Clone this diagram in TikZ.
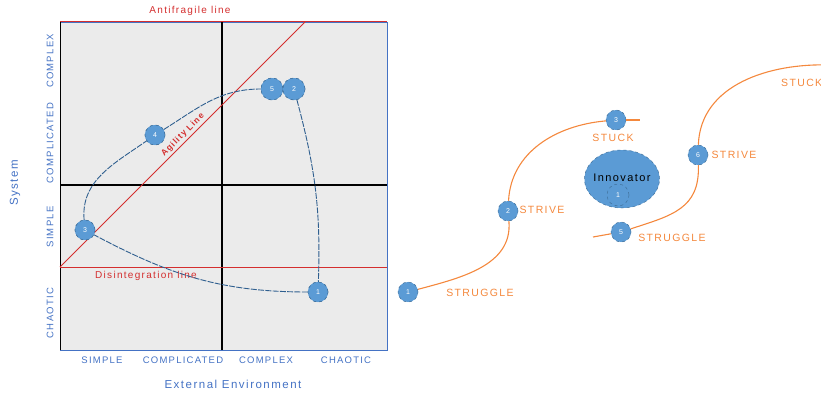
\documentclass[tikz,border=0pt]{standalone}
\usepackage{fontspec}
\setmainfont{Liberation Sans}[LetterSpace=13]
\usetikzlibrary{shapes.geometric}
\definecolor{axblue}{HTML}{4472C4}
\definecolor{dotblue}{HTML}{5B9BD5}
\definecolor{dotedge}{HTML}{41719C}
\definecolor{loopblue}{HTML}{2F5F8F}
\definecolor{redc}{HTML}{D42E2E}
\definecolor{orangec}{HTML}{F4883D}
\definecolor{grayfill}{HTML}{EBEBEB}
\begin{document}
\begin{tikzpicture}[x=1pt,y=1pt,
  axlbl/.style={text=axblue, font=\fontsize{9.5}{10}\selectfont, inner sep=0pt},
  axtitle/.style={text=axblue, font=\fontsize{11.5}{12}\selectfont, inner sep=0pt},
  redlbl/.style={text=redc, font=\fontsize{10}{11}\selectfont, inner sep=0pt},
  redline/.style={draw=redc, line width=1pt},
  midline/.style={draw=black, line width=1.1pt},
  dot/.style={circle, fill=dotblue, draw=dotedge, dashed, line width=0.5pt, minimum size=20pt, inner sep=0pt, text=white, font=\fontsize{7}{8}\selectfont},
  loopline/.style={draw=loopblue, line width=0.9pt, dash pattern=on 6pt off 1.3pt},
  oline/.style={draw=orangec, line width=1.1pt},
  olbl/.style={text=orangec, font=\fontsize{10.5}{11}\selectfont, inner sep=0pt}]
\useasboundingbox (0,0) rectangle (821,392);
% plot area
\fill[grayfill] (60,42) rectangle (387,370);
\draw[axblue, line width=0.8pt] (60,42) rectangle (387,370);
\draw[black, line width=1.4pt] (60.5,42) -- (60.5,370);
\coordinate (vmT) at (222,370); \coordinate (vmB) at (222,42);
\coordinate (hmL) at (60,207); \coordinate (hmR) at (387,207);
\draw[midline] (vmT) -- (vmB);
\draw[midline] (hmL) -- (hmR);
% red lines
\coordinate (anA) at (60,370); \coordinate (anB) at (387,370);
\coordinate (diA) at (60,125); \coordinate (diB) at (387,125);
\coordinate (agA) at (60,125); \coordinate (agB) at (305,370);
\draw[redline] (anA) -- (anB);
\draw[redline] (diA) -- (diB);
\draw[redline] (agA) -- (agB) node[pos=0.52, sloped, above=2pt, text=redc, font=\bfseries\fontsize{8.5}{9}\selectfont, inner sep=0pt] {Agility Line};
\node[redlbl] (antl) at (190,381) {Antifragile line};
\node[redlbl] (disl) at (146,116) {Disintegration line};
% axis labels
\node[axlbl, rotate=90] (yc1) at (50,331) {COMPLEX};
\node[axlbl, rotate=90] (yc2) at (50,249) {COMPLICATED};
\node[axlbl, rotate=90] (yc3) at (50,165) {SIMPLE};
\node[axlbl, rotate=90] (yc4) at (50,79) {CHAOTIC};
\node[axlbl] (xs1) at (102,32) {SIMPLE};
\node[axlbl] (xs2) at (183,32) {COMPLICATED};
\node[axlbl] (xs3) at (266,32) {COMPLEX};
\node[axlbl] (xs4) at (346,32) {CHAOTIC};
\node[axtitle] (xt) at (233,8) {External Environment};
\node[axtitle, rotate=90] (yt) at (15,209) {System};
% loop
\node[dot] (c5) at (85,162) {3};
\node[dot] (c2) at (155,257) {4};
\node[dot, minimum size=22pt] (c3) at (272,303) {5};
\node[dot, minimum size=22pt] (c4) at (294,303) {2};
\node[dot] (c1) at (318,100) {1};
\draw[loopline] (c5) to[out=95,in=215] (c2) to[out=32,in=180] (c3);
\draw[loopline] (c4) to[out=-75,in=88] (c1);
\draw[loopline] (c1) to[out=180,in=-28] (c5);
\node[dot] (c5b) at (85,162) {3};
\node[dot] (c2b) at (155,257) {4};
\node[dot, minimum size=22pt] (c3b) at (272,303) {5};
\node[dot, minimum size=22pt] (c4b) at (294,303) {2};
\node[dot] (c1b) at (318,100) {1};
% right side curves
\coordinate (e3) at (640,272);
\coordinate (s5) at (593,155);
\coordinate (eB) at (830,327);
\node[dot] (r1) at (408,100) {1};
\node[dot] (r2) at (508,181) {2};
\node[dot] (r3) at (616,272) {3};
\node[dot] (r5) at (621,160) {5};
\node[dot] (r6) at (698,237) {6};
\draw[oline] (r1) to[out=15,in=-85] (r2);
\draw[oline] (r2) to[out=87,in=185] (r3);
\draw[oline] (r3) -- (e3);
\draw[oline] (s5) -- (r5);
\draw[oline] (r5) to[out=18,in=-88,looseness=1.2] (r6);
\draw[oline] (r6) to[out=88,in=178] (eB);
\node[olbl] (l1) at (480,99) {STRUGGLE};
\node[olbl] (l2) at (542,182) {STRIVE};
\node[olbl] (l3) at (613,254) {STUCK};
\node[olbl] (l5) at (672,154) {STRUGGLE};
\node[olbl] (l6) at (734,237) {STRIVE};
\node[olbl, anchor=west] (l7) at (781,309) {STUCK};
% innovator
\node[ellipse, fill=dotblue, draw=dotedge, dashed, line width=0.5pt, minimum width=75pt, minimum height=58pt, inner sep=0pt] (inn) at (622,213) {};
\node[font=\fontsize{11}{12}\selectfont, text=black, inner sep=0pt] (innt) at (622,214) {Innovator};
\node[circle, draw=dotedge, dashed, line width=0.5pt, minimum size=22pt, inner sep=0pt, text=white, font=\fontsize{7}{8}\selectfont] (inn1) at (618,197) {1};
\end{tikzpicture}
\end{document}
